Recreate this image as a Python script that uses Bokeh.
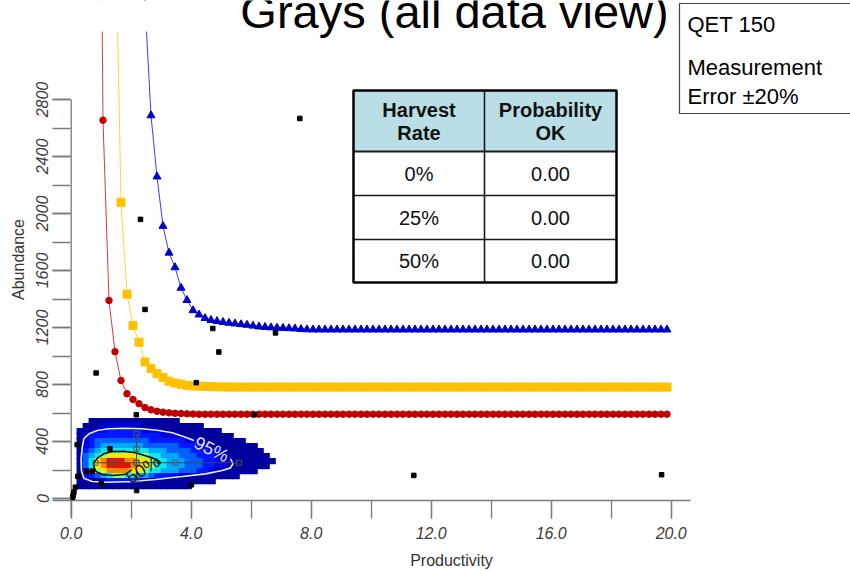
import numpy as np
from bokeh.plotting import figure
from bokeh.models import (Range1d, SingleIntervalTicker, PrintfTickFormatter, BasicTickFormatter,
                          Label, BoxAnnotation, ColumnDataSource)
from bokeh.transform import linear_cmap
from bokeh.embed import file_html
from bokeh.resources import INLINE

nan = float("nan")

# ---------------- data ----------------
PRODUCTIVITY = [
    0.86, 1.06, 1.26, 1.46, 1.66, 1.86, 2.06, 2.26, 2.46, 2.66,
    2.86, 3.06, 3.26, 3.46, 3.66, 3.86, 4.06, 4.26, 4.46, 4.66,
    4.86, 5.06, 5.26, 5.46, 5.66, 5.86, 6.06, 6.26, 6.46, 6.66,
    6.86, 7.06, 7.26, 7.46, 7.66, 7.86, 8.06, 8.26, 8.46, 8.66,
    8.86, 9.06, 9.26, 9.46, 9.66, 9.86, 10.06, 10.26, 10.46, 10.66,
    10.86, 11.06, 11.26, 11.46, 11.66, 11.86, 12.06, 12.26, 12.46, 12.66,
    12.86, 13.06, 13.26, 13.46, 13.66, 13.86, 14.06, 14.26, 14.46, 14.66,
    14.86, 15.06, 15.26, 15.46, 15.66, 15.86, 16.06, 16.26, 16.46, 16.66,
    16.86, 17.06, 17.26, 17.46, 17.66, 17.86, 18.06, 18.26, 18.46, 18.66,
    18.86, 19.06, 19.26, 19.46, 19.66, 19.86]

# harvest 0 %  (red circles)
ABUND_H0 = [
    7600, 2655, 1390, 1030, 828, 735, 695, 665, 638, 622,
    612, 606, 601, 598, 596, 594, 593, 592, 592, 592,
    592, 592, 592, 592, 592, 592, 592, 592, 592, 592,
    592, 592, 592, 592, 592, 592, 592, 592, 592, 592,
    592, 592, 592, 592, 592, 592, 592, 592, 592, 592,
    592, 592, 592, 592, 592, 592, 592, 592, 592, 592,
    592, 592, 592, 592, 592, 592, 592, 592, 592, 592,
    592, 592, 592, 592, 592, 592, 592, 592, 592, 592,
    592, 592, 592, 592, 592, 592, 592, 592, 592, 592,
    592, 592, 592, 592, 592, 592]

# harvest 25 % (yellow squares)
ABUND_H25 = [
    nan, nan, nan, 4250, 2079, 1434, 1214, 1097, 958, 912,
    877, 849, 823, 811, 802, 794, 790, 788, 786, 785,
    784, 783, 782, 782, 782, 782, 782, 782, 782, 782,
    782, 782, 782, 782, 782, 782, 782, 782, 782, 782,
    782, 782, 782, 782, 782, 782, 782, 782, 782, 782,
    782, 782, 782, 782, 782, 782, 782, 782, 782, 782,
    782, 782, 782, 782, 782, 782, 782, 782, 782, 782,
    782, 782, 782, 782, 782, 782, 782, 782, 782, 782,
    782, 782, 782, 782, 782, 782, 782, 782, 782, 782,
    782, 782, 782, 782, 782, 782]

# harvest 50 % (blue triangles)
ABUND_H50 = [
    nan, nan, nan, nan, nan, nan, nan, nan, 3470, 2688,
    2259, 1912, 1724, 1622, 1478, 1392, 1320, 1290, 1265, 1252,
    1244, 1238, 1232, 1227, 1222, 1218, 1212, 1206, 1203, 1200,
    1198, 1196, 1194, 1192, 1188, 1186, 1185, 1185, 1185, 1185,
    1185, 1185, 1185, 1185, 1185, 1185, 1185, 1185, 1185, 1185,
    1185, 1185, 1185, 1185, 1185, 1185, 1185, 1185, 1185, 1185,
    1185, 1185, 1185, 1185, 1185, 1185, 1185, 1185, 1185, 1185,
    1185, 1185, 1185, 1185, 1185, 1185, 1185, 1185, 1185, 1185,
    1185, 1185, 1185, 1185, 1185, 1185, 1185, 1185, 1185, 1185,
    1185, 1185, 1185, 1185, 1185, 1185]

# observed data (black squares)
OBS_PROD = [0.83, 2.31, 2.46, 4.17, 4.72, 4.92, 6.81, 7.62, 2.17, 6.11, 11.42, 19.68,
            0.20, 1.29, 0.51, 0.70, 0.22, 1.00, 2.18, 4.01, 0.14, 0.09, 0.07, 0.05]
OBS_ABUND = [881, 1959, 1327, 813, 1193, 1028, 1162, 2667, 588, 588, 162, 167,
             378, 349, 192, 192, 155, 103, 56, 96, 79, 45, 25, 8]

# percentile cross (productivity and abundance percentiles)
PROD_PCT = [0.81, 1.37, 2.18, 3.48, 5.59]
ABUND_PCT = [134, 251, 349, 455]
MEDIAN_PROD = 2.18
MEDIAN_ABUND = 251

# joint posterior density, levels 0..9, rows top (abundance 560) to bottom (70),
# columns productivity 0.2 .. 6.8 in 0.2 steps
DENSITY_ROWS = [
    "..000000000000000................",
    ".00011111110000000000............",
    "000112222221110000000000.........",
    "01222222222222111000000000.......",
    "0123333333332222221100000000.....",
    "012344444443333332221100000000...",
    "0234555555554443333222110000000..",
    "03456777776655444333222110000000.",
    "035789998877655444333221110000000",
    "03578999987765544433322110000000.",
    "024678888776554443332210000000...",
    "012345665544322211000000000......",
    "00001222221000000000000..........",
    "0000000000000000000..............",
]
DENS_PROD_START, DENS_PROD_STEP = 0.2, 0.2
DENS_ABUND_TOP, DENS_ABUND_STEP = 560, 35
DENS_PALETTE = ["#00009E", "#0000E0", "#0018FF", "#0060FF", "#00A8FF",
                "#10E8F0", "#90FF70", "#FFE400", "#FF8400", "#E41400"]

# contours
C95_PROD = [5.31, 5.39, 5.31, 5.03, 4.48, 3.70, 2.81, 2.03, 1.25, 0.70, 0.42, 0.34,
            0.33, 0.37, 0.42, 0.59, 0.87, 1.25, 1.81, 2.37, 2.92, 3.37, 3.81, 4.09]
C95_ABUND = [279, 244, 215, 197, 173, 154, 133, 119, 114, 119, 142, 197,
             279, 360, 419, 454, 477, 489, 493, 489, 477, 461, 430, 407]
C50_PROD = [2.93, 2.98, 2.87, 2.53, 2.14, 1.75, 1.37, 1.09, 0.87, 0.75, 0.77, 0.83,
            1.03, 1.37, 1.85]
C50_ABUND = [238, 252, 272, 297, 321, 332, 330, 314, 283, 245, 215, 189, 168, 161, 170]

HARVEST_RATES = ["0%", "25%", "50%"]
PROB_OK = ["0.00", "0.00", "0.00"]

X_TICK_STEP, Y_TICK_STEP = 4, 400

# ---------------- layout ----------------
W, H = 850, 571
FL, FR, FT, FB = 52, 850, 0, 518           # frame edges in pixels
PX_X0, PX_PER_X = 70.7, 30.0               # pixel of productivity 0, pixels per unit
PX_Y0, Y_PER_PX = 498.0, 7.018             # pixel of abundance 0, units per pixel
X_RANGE = ((FL - PX_X0) / PX_PER_X, (FR - PX_X0) / PX_PER_X)
Y_RANGE = ((PX_Y0 - FB) * Y_PER_PX, (PX_Y0 - FT) * Y_PER_PX)


def sx(px):
    return (px - PX_X0) / PX_PER_X


def sy(py):
    return (PX_Y0 - py) * Y_PER_PX


FONT = "Liberation Sans"
AX_COL = "#7a7a7a"

p = figure(width=W, height=H, x_range=Range1d(*X_RANGE), y_range=Range1d(*Y_RANGE),
           output_backend="svg", toolbar_location=None,
           min_border_left=FL, min_border_right=W - FR, min_border_top=FT,
           min_border_bottom=H - FB)
p.outline_line_color = None
p.xgrid.grid_line_color = None
p.ygrid.grid_line_color = None
p.background_fill_color = "white"
p.border_fill_color = "white"

for ax in (p.xaxis[0], p.yaxis[0]):
    ax.axis_line_color = None
    ax.major_tick_in = 18
    ax.major_tick_out = 0
    ax.minor_tick_in = 18
    ax.minor_tick_out = 0
    ax.major_tick_line_color = AX_COL
    ax.minor_tick_line_color = AX_COL
    ax.major_tick_line_width = 1.3
    ax.minor_tick_line_width = 1.3
    ax.major_label_text_font = FONT
    ax.major_label_text_font_size = "16px"
    ax.major_label_text_font_style = "italic"
    ax.major_label_text_color = "#3a3a3a"
    ax.axis_label_text_font = FONT
    ax.axis_label_text_font_size = "16px"
    ax.axis_label_text_font_style = "normal"
    ax.axis_label_text_color = "#333333"

xa = p.xaxis[0]
xa.ticker = SingleIntervalTicker(interval=X_TICK_STEP, num_minor_ticks=2)
xa.bounds = (0, 20)
xa.formatter = PrintfTickFormatter(format="%.1f")
xa.major_label_standoff = 8
xa.axis_label = "Productivity"
xa.axis_label_standoff = 10

ya = p.yaxis[0]
ya.ticker = SingleIntervalTicker(interval=Y_TICK_STEP, num_minor_ticks=2)
ya.bounds = (0, 2800)
ya.formatter = BasicTickFormatter()
ya.major_label_orientation = "vertical"
ya.major_label_standoff = 4
ya.axis_label = "Abundance"
ya.axis_label_standoff = 7

# axis lines (Igor-style crossing axes)
p.segment(x0=[0], y0=[sy(516)], x1=[0], y1=[2800], line_color=AX_COL, line_width=1.3)
p.segment(x0=[X_RANGE[0]], y0=[sy(500)], x1=[sx(690)], y1=[sy(500)],
          line_color=AX_COL, line_width=1.3)

# density cells
hx, hy, hl = [], [], []
for r, row in enumerate(DENSITY_ROWS):
    for c, ch in enumerate(row):
        if ch != ".":
            hx.append(DENS_PROD_START + DENS_PROD_STEP * (c + 0.5))
            hy.append(DENS_ABUND_TOP - DENS_ABUND_STEP * (r + 0.5))
            hl.append(int(ch))
dsrc = ColumnDataSource(dict(x=hx, y=hy, lvl=hl))
cmap = linear_cmap("lvl", DENS_PALETTE, -0.5, 9.5)
# cells are drawn slightly oversized so that no seams show between them
p.rect("x", "y", width=DENS_PROD_STEP * 1.2, height=DENS_ABUND_STEP * 1.25, source=dsrc,
       fill_color=cmap, line_color=None)

# contours
p.line(C95_PROD, C95_ABUND, line_color="#ECECFF", line_width=1.6)
p.line(C50_PROD, C50_ABUND, line_color="#101010", line_width=1.6)
p.add_layout(Label(x=4.68, y=344, text="95%", angle=-0.45, text_align="center",
                   text_baseline="middle", text_font=FONT, text_font_size="18px",
                   text_color="#E4E4FF"))
p.add_layout(Label(x=2.39, y=204, text="50%", angle=0.57, text_align="center",
                   text_baseline="middle", text_font=FONT, text_font_size="18px",
                   text_color="#1a1a1a"))

# percentile cross
p.segment(x0=[min(PROD_PCT)], y0=[MEDIAN_ABUND], x1=[max(PROD_PCT)], y1=[MEDIAN_ABUND],
          line_color="#404848", line_width=1)
p.segment(x0=[MEDIAN_PROD], y0=[min(ABUND_PCT)], x1=[MEDIAN_PROD], y1=[max(ABUND_PCT)],
          line_color="#404848", line_width=1)
p.scatter(PROD_PCT, [MEDIAN_ABUND] * len(PROD_PCT), marker="square", size=5,
          fill_color=None, line_color="#505858", line_width=1)
p.scatter([MEDIAN_PROD] * len(ABUND_PCT), ABUND_PCT, marker="square", size=5,
          fill_color=None, line_color="#505858", line_width=1)

# equilibrium curves
src = ColumnDataSource(dict(x=np.array(PRODUCTIVITY, dtype=float),
                            h0=np.array(ABUND_H0, dtype=float),
                            h25=np.array(ABUND_H25, dtype=float),
                            h50=np.array(ABUND_H50, dtype=float)))
p.line("x", "h0", source=src, line_color="#DA3A3A", line_width=1)
p.line("x", "h25", source=src, line_color="#FFD440", line_width=1)
p.line("x", "h50", source=src, line_color="#3C3CF2", line_width=1)
p.scatter("x", "h0", source=src, marker="circle", size=6.5,
          fill_color="#C00000", line_color="#C00000")
p.scatter("x", "h25", source=src, marker="square", size=8,
          fill_color="#FFC000", line_color="#FFC000")
p.scatter("x", "h50", source=src, marker="triangle", size=8,
          fill_color="#0000C8", line_color="#0000C8")

# observations
p.scatter(OBS_PROD, OBS_ABUND, marker="square", size=4.5, fill_color="black",
          line_color="black")

# white strip above the original plot area (the curves end there)
p.add_layout(BoxAnnotation(left=sx(0), right=sx(679), top=sy(-5), bottom=sy(31),
                           fill_color="white", fill_alpha=1, line_color=None))

# title (cut off at the top of the picture, as in the reference)
p.add_layout(Label(x=sx(454), y=sy(11), text="Grays (all data view)", text_align="center",
                   text_baseline="middle", text_font=FONT, text_font_size="47px",
                   text_color="black"))

# QET box
p.add_layout(BoxAnnotation(left=sx(679), right=sx(865), top=sy(3), bottom=sy(113),
                           fill_color="white", fill_alpha=1, line_color="#444444",
                           line_width=1.2, line_alpha=1))
for txt, py in (("QET 150", 24), ("Measurement", 67), ("Error ±20%", 96)):
    p.add_layout(Label(x=sx(687), y=sy(py), text=txt, text_align="left",
                       text_baseline="middle", text_font=FONT, text_font_size="22px",
                       text_color="black"))

# table
TL, TR, TT, TB, TC = 353, 616, 90, 282, 484
ROW_LINES = [151, 195, 239]


def box(l, r, t, b, color):
    p.add_layout(BoxAnnotation(left=sx(l), right=sx(r), top=sy(t), bottom=sy(b),
                               fill_color=color, fill_alpha=1, line_color=None))


box(TL, TR, TT, ROW_LINES[0], "#B9DEE6")
box(TL, TR, ROW_LINES[0], TB, "white")
for i, yl in enumerate(ROW_LINES):
    w = 2.0 if i == 0 else 1.4
    box(TL, TR, yl - w / 2, yl + w / 2, "#1a1a1a")
box(TC - 0.8, TC + 0.8, TT, TB, "#1a1a1a")
p.add_layout(BoxAnnotation(left=sx(TL), right=sx(TR), top=sy(TT), bottom=sy(TB),
                           fill_color=None, fill_alpha=0, line_color="black",
                           line_width=2.5, line_alpha=1))
c1, c2 = (TL + TC) / 2, (TC + TR) / 2
for txt, cx, py in (("Harvest", c1, 109), ("Rate", c1, 132),
                    ("Probability", c2, 109), ("OK", c2, 132)):
    p.add_layout(Label(x=sx(cx), y=sy(py), text=txt, text_align="center",
                       text_baseline="middle", text_font=FONT, text_font_size="20px",
                       text_font_style="bold", text_color="#111111"))
row_centers = [(ROW_LINES[0] + ROW_LINES[1]) / 2, (ROW_LINES[1] + ROW_LINES[2]) / 2,
               (ROW_LINES[2] + TB) / 2]
for hr, pk, py in zip(HARVEST_RATES, PROB_OK, row_centers):
    p.add_layout(Label(x=sx(c1), y=sy(py), text=hr, text_align="center",
                       text_baseline="middle", text_font=FONT, text_font_size="20px",
                       text_color="#111111"))
    p.add_layout(Label(x=sx(c2), y=sy(py), text=pk, text_align="center",
                       text_baseline="middle", text_font=FONT, text_font_size="20px",
                       text_color="#111111"))

open("out.html", "w").write(file_html(p, INLINE))
